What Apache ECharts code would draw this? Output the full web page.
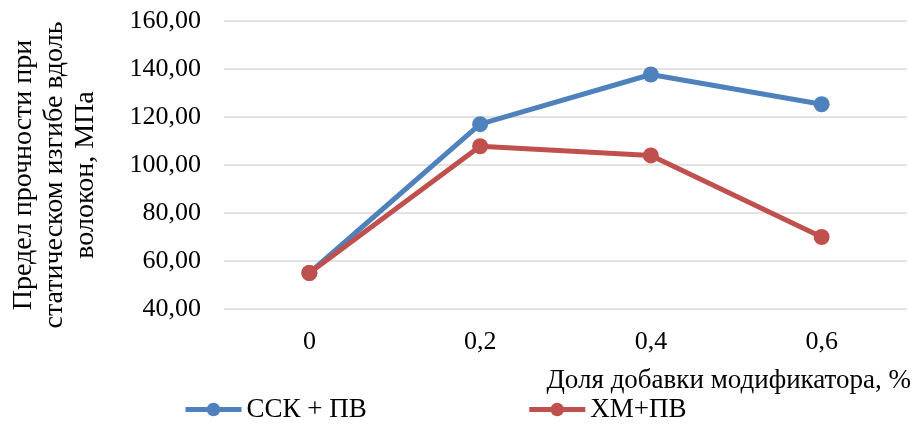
<!DOCTYPE html>
<html lang="ru">
<head>
    <meta charset="UTF-8">
    <title>Предел прочности</title>
    <style>
        html, body { margin: 0; padding: 0; background: #fff; }
        #chart { width: 914px; height: 431px; }
    </style>
</head>
<body>
<div id="chart"></div>
<script src="https://cdn.jsdelivr.net/npm/echarts@6/dist/echarts.min.js"></script>
<script type="text/javascript">
    var categories = ['0', '0,2', '0,4', '0,6'];
    var sskValues = [55, 117, 137.7, 125.3];   // ССК + ПВ
    var hmValues = [55, 107.8, 104, 70];       // ХМ+ПВ
    var yTicks = { min: 40, max: 160, step: 20 };

    var font = "'Liberation Serif', 'Times New Roman', serif";
    var myChart = echarts.init(document.getElementById('chart'));
    var option = {
        animation: false,
        textStyle: { fontFamily: font },
        grid: {
            left: 224,
            right: 7,
            top: 21,
            bottom: 122,
            outerBoundsMode: 'none'
        },
        legend: {
            bottom: 3,
            left: 178,
            itemGap: 160,
            itemWidth: 56,
            itemHeight: 17,
            lineStyle: { width: 5 },
            textStyle: { fontFamily: font, fontSize: 27, color: '#000' },
            data: ['ССК + ПВ', 'ХМ+ПВ']
        },
        xAxis: {
            type: 'category',
            data: categories,
            axisLine: { show: false },
            axisTick: { show: false },
            axisLabel: { fontFamily: font, fontSize: 26, color: '#000', margin: 20 },
            name: 'Доля добавки модификатора, %',
            nameLocation: 'end',
            nameGap: 4,
            nameTextStyle: {
                fontFamily: font, fontSize: 27, color: '#000',
                align: 'right', verticalAlign: 'top', padding: [58, 0, 0, 0]
            }
        },
        yAxis: {
            type: 'value',
            min: yTicks.min,
            max: yTicks.max,
            interval: yTicks.step,
            axisLine: { show: false },
            axisTick: { show: false },
            splitLine: { lineStyle: { color: '#d9d9d9', width: 1.5 } },
            axisLabel: {
                fontFamily: font, fontSize: 26, color: '#000', margin: 23,
                formatter: function (v) { return v.toFixed(2).replace('.', ','); }
            },
            name: 'Предел прочности при\nстатическом изгибе вдоль\nволокон, МПа',
            nameLocation: 'middle',
            nameGap: 123,
            nameTextStyle: {
                fontFamily: font, fontSize: 28, color: '#000', lineHeight: 31,
                padding: [0, 20, 0, 0]
            }
        },
        series: [{
            name: 'ССК + ПВ',
            type: 'line',
            data: sskValues,
            symbol: 'circle',
            symbolSize: 16,
            color: '#4F81BD',
            lineStyle: { width: 5 },
            z: 2
        }, {
            name: 'ХМ+ПВ',
            type: 'line',
            data: hmValues,
            symbol: 'circle',
            symbolSize: 16,
            color: '#C0504D',
            lineStyle: { width: 5 },
            z: 3
        }]
    };
    myChart.setOption(option);
</script>
</body>
</html>
